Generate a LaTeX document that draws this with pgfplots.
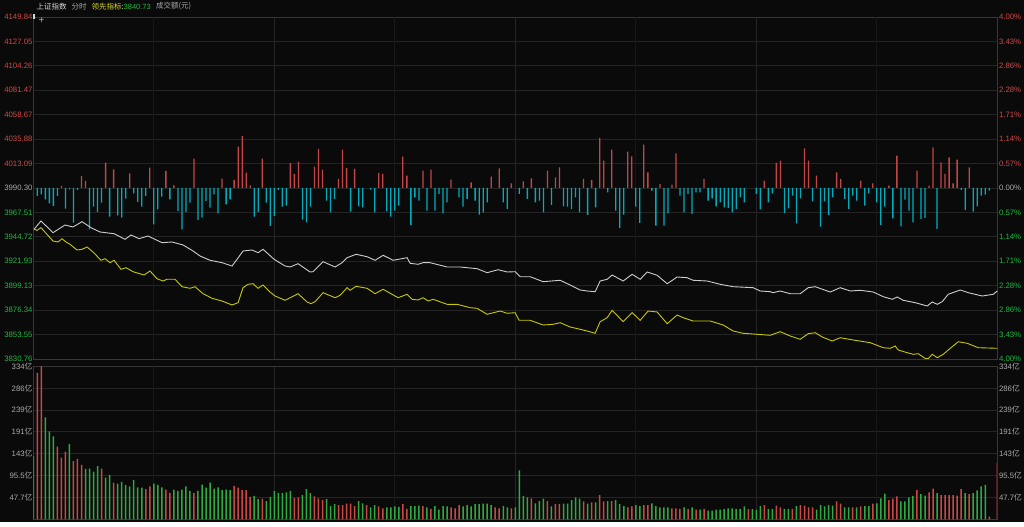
\documentclass[border=0pt]{standalone}
\usepackage{fontspec}
\setmainfont{Liberation Sans}
\newfontfamily\cjk{Noto Sans CJK SC}
\usepackage{pgfplots}
\pgfplotsset{compat=1.18}
\definecolor{bg}{RGB}{10,10,10}
\definecolor{gridc}{RGB}{36,36,36}
\definecolor{gridh}{RGB}{48,48,48}
\definecolor{gridf}{RGB}{24,24,24}
\definecolor{border}{RGB}{55,55,55}
\definecolor{upred}{RGB}{210,72,72}
\definecolor{dngreen}{RGB}{30,185,65}
\definecolor{labgray}{RGB}{170,170,170}
\definecolor{ttl}{RGB}{215,215,215}
\definecolor{ttlyel}{RGB}{215,215,40}
\definecolor{barred}{RGB}{195,70,70}
\definecolor{barcyan}{RGB}{0,172,188}
\definecolor{volred}{RGB}{200,72,72}
\definecolor{volgreen}{RGB}{45,170,65}
\definecolor{wline}{RGB}{205,205,205}
\definecolor{yline}{RGB}{200,200,0}
\newcommand{\R}[1]{\textcolor{upred}{#1}}
\newcommand{\G}[1]{\textcolor{dngreen}{#1}}
\newcommand{\N}[1]{\textcolor{labgray}{#1}}
\newcommand{\Y}[1]{\textcolor{labgray}{#1{\cjk 亿}}}
\begin{document}
\begin{tikzpicture}[x=1pt,y=1pt]
\fill[bg] (0,0) rectangle (1024,522);
\pgfplotsset{
  panel/.style={scale only axis, width=964pt, anchor=south west,
    ticklabel style={font=\fontsize{7.8}{9}\selectfont},
    major tick length=0pt, axis line style={draw=border, line width=0.9pt}},
  vgrid/.style={xtick={60,120,180}, xticklabels={},
    extra x ticks={30,90,150,210}, extra x tick labels={},
    extra x tick style={grid=major, major grid style={draw=gridf, line width=1pt}},
    grid=major, major grid style={draw=gridc, line width=0.9pt}},
}
% ---------- top panel: grid and left labels ----------
\begin{axis}[panel, vgrid, at={(33.3pt,163pt)}, height=342pt,
  xmin=0, xmax=240, ymin=3830.76, ymax=4149.84,
  ytick={3830.76,3853.55,3876.34,3899.13,3921.93,3944.72,3967.51,3990.30,4013.09,4035.88,4058.67,4081.47,4104.26,4127.05,4149.84},
  yticklabels={\G{3830.76},\G{3853.55},\G{3876.34},\G{3899.13},\G{3921.93},\G{3944.72},\G{3967.51},\N{3990.30},\R{4013.09},\R{4035.88},\R{4058.67},\R{4081.47},\R{4104.26},\R{4127.05},\R{4149.84}},
  yticklabel style={inner sep=0.6pt}]
\end{axis}
% ---------- top panel: right percentage labels ----------
\begin{axis}[panel, at={(33.3pt,163pt)}, height=342pt,
  xmin=0, xmax=240, ymin=-4, ymax=4, axis x line=none, axis y line*=right,
  ytick={-4,-3.428571,-2.857143,-2.285714,-1.714286,-1.142857,-0.571429,0,0.571429,1.142857,1.714286,2.285714,2.857143,3.428571,4},
  yticklabels={\G{4.00\%},\G{3.43\%},\G{2.86\%},\G{2.28\%},\G{1.71\%},\G{1.14\%},\G{0.57\%},\N{0.00\%},\R{0.57\%},\R{1.14\%},\R{1.71\%},\R{2.28\%},\R{2.86\%},\R{3.43\%},\R{4.00\%}},
  yticklabel style={inner sep=1.5pt}]
\end{axis}
% ---------- top panel: buy/sell bars ----------
\begin{axis}[panel, at={(33.3pt,163pt)}, height=342pt, hide axis,
  xmin=0, xmax=240, ymin=-171, ymax=171]
\addplot[ybar, bar width=1.3pt, bar shift=0pt, fill=barred, draw=none] coordinates {
(7,2)(12,12)(13,7)(18,25.3)(20,18.7)(24,14.7)(29,20.3)(33,17)(35,2.7)(40,29.3)(47,9.3)(50,8)(51,41.3)(52,52)(53,15.3)(54,2.7)(57,29.3)(64,25)(65,14)(66,26.3)(70,21.3)(71,39)(72,18.3)(76,9)(77,38.3)(78,20)(80,19)(86,15)(87,14)(92,31.3)(93,12.3)(97,17.3)(99,18.3)(104,8.3)(109,5.7)(114,11.3)(116,19.7)(119,4.7)(122,6.7)(124,9.7)(128,17.3)(130,10.7)(131,20.7)(137,9)(139,8)(141,50)(142,27.3)(144,38.3)(148,36.3)(149,31.7)(152,43.3)(153,15.7)(156,4)(159,3.3)(160,34.7)(167,9)(182,7.3)(185,25)(186,27.3)(192,39.7)(193,27.3)(195,12.3)(200,15.7)(201,9)(206,7.3)(209,4.7)(213,2.3)(215,32.3)(220,17.3)(223,2.3)(224,40.7)(226,25.7)(227,14)(228,30.7)(229,4.7)(230,28.3)(233,20.7)
};
\addplot[ybar, bar width=1.3pt, bar shift=0pt, fill=barcyan, draw=none] coordinates {
(1,-8)(2,-6.3)(3,-11.3)(4,-15.3)(5,-18)(6,-8)(8,-20.7)(9,-1.3)(10,-34.7)(11,-2)(14,-41.3)(15,-18.7)(16,-24)(17,-14.7)(19,-28.7)(21,-27.3)(22,-29.7)(23,-10.7)(25,-5.3)(26,-14)(27,-18.7)(28,-8)(30,-36.3)(31,-21.3)(32,-8.7)(34,-11.3)(36,-23)(37,-41.3)(38,-24)(39,-14.7)(41,-32)(42,-29.7)(43,-13)(44,-19.7)(45,-6.3)(46,-25.3)(48,-16.3)(49,-11.3)(55,-28.7)(56,-24)(58,-14.7)(59,-38)(60,-28)(61,-2)(62,-18.7)(63,-17.7)(67,-31.7)(68,-34.3)(69,-18.7)(73,-12.7)(74,-24.3)(75,-11)(79,-23.7)(81,-18.3)(82,-19.3)(84,-1.7)(85,-24.3)(88,-23.3)(89,-28.7)(90,-22.7)(91,-17.7)(94,-37)(95,-9.3)(96,-12.7)(98,-22.7)(100,-22.7)(101,-6)(102,-25.3)(103,-14.3)(106,-9.3)(107,-18.7)(108,-11)(110,-12.7)(111,-26.7)(112,-24.3)(113,-14.3)(117,-14.3)(118,-21)(121,-6)(123,-11)(125,-14.3)(126,-12.7)(127,-24.3)(129,-17)(132,-18.3)(133,-18.7)(134,-21)(135,-9.3)(136,-24.3)(138,-27)(140,-19.3)(143,-4.3)(145,-22.7)(146,-40)(147,-26.7)(150,-18.7)(151,-35)(154,-2.7)(155,-37.7)(157,-37.7)(158,-25.3)(161,-7.7)(162,-24.3)(163,-6)(164,-26)(165,-4.3)(166,-4.3)(168,-12.7)(169,-10.3)(170,-18.3)(171,-14.3)(172,-19.3)(173,-20)(174,-24.3)(175,-21)(176,-9.3)(177,-14.3)(180,-6)(181,-21.3)(183,-14.3)(184,-5.3)(187,-25)(188,-20.3)(189,-7.7)(190,-35.3)(191,-10.3)(194,-13.3)(196,-38.7)(197,-13.3)(198,-27)(199,-9.3)(202,-11)(203,-21)(204,-7.7)(205,-12.7)(207,-17.7)(208,-5.3)(210,-14.3)(211,-37)(212,-18.7)(214,-30.3)(216,-38.3)(217,-11.7)(218,-22.7)(219,-34.3)(221,-31)(222,-30)(225,-41)(231,-2)(232,-22)(234,-23.7)(235,-18.3)(236,-7.7)(237,-6.7)(238,-2.7)
};
\end{axis}
% ---------- top panel: index lines ----------
\begin{axis}[panel, at={(33.3pt,163pt)}, height=342pt, hide axis,
  xmin=-0.175, xmax=240.825, ymin=3830.76, ymax=4149.84]
\addplot[wline, line width=0.9pt, no marks] coordinates {
(0,3951.77)(1.75,3959.51)(4.75,3948.60)(7.75,3955.78)(9.75,3953.91)(12,3958.86)(14.25,3953.26)(16.5,3949.25)(20,3947.66)(22.75,3942.44)(24.25,3946.45)(26.25,3943.00)(28.5,3945.52)(32,3939.27)(34.5,3939.92)(37.25,3937.12)(39.75,3931.52)(41.5,3926.86)(44,3922.85)(47,3920.61)(49.5,3917.53)(50.75,3923.78)(52.25,3931.52)(54.5,3932.46)(56,3929.94)(57.25,3933.11)(60,3923.78)(62.75,3917.53)(64,3916.59)(66,3919.67)(69,3911.93)(69.75,3912.21)(72.25,3921.54)(75.25,3916.59)(77,3920.61)(78.25,3925.27)(80.5,3928.44)(83.25,3926.20)(85.25,3922.85)(87.25,3927.51)(89.75,3922.85)(93.25,3925.27)(94,3920.05)(96,3919.11)(97.25,3920.61)(99,3920.61)(103.25,3916.59)(106.5,3916.59)(110.75,3915.01)(113.25,3911.28)(116,3914.08)(118.25,3911.93)(120.25,3912.21)(121.5,3907.54)(124,3907.54)(127.25,3902.88)(131.5,3904.19)(134,3899.80)(136.5,3895.14)(138.25,3894.20)(140.25,3893.55)(141.5,3903.53)(143.25,3905.12)(144.5,3909.13)(147.25,3903.53)(149.5,3909.78)(151.5,3905.12)(153.25,3911.93)(155.75,3908.85)(158.25,3901.01)(160.75,3907.26)(163.25,3906.61)(164.75,3904.19)(168.25,3903.53)(171.5,3900.45)(174.75,3898.21)(179.75,3897.28)(181.5,3894.20)(184,3893.55)(184.75,3892.62)(186.5,3894.20)(189,3891.68)(191.5,3891.68)(193.5,3897.28)(195.25,3898.21)(199,3893.27)(201.5,3897.28)(204,3894.20)(206.5,3894.86)(209.75,3893.27)(212.25,3888.89)(214.5,3886.46)(215.75,3888.61)(217.25,3885.53)(220.25,3883.29)(223.25,3880.21)(224.5,3883.94)(225.75,3881.79)(227,3884.22)(228.5,3891.12)(231.5,3895.14)(233.5,3892.62)(237,3889.54)(239.75,3891.12)(240.75,3894.20)
};
\addplot[yline, line width=0.9pt, no marks] coordinates {
(0,3951.77)(0.75,3950.83)(1.75,3953.26)(4.75,3940.85)(6,3939.92)(7,3943.00)(8,3939.92)(9,3937.77)(10.75,3932.46)(12,3933.11)(13.25,3935.25)(14.75,3930.59)(16.75,3922.85)(17.75,3924.34)(19,3920.61)(20,3922.85)(21.75,3914.45)(23,3915.94)(24.75,3912.21)(27.5,3909.13)(29,3912.86)(30.75,3905.68)(32.25,3903.53)(33.25,3905.12)(35.25,3905.12)(37,3898.21)(39,3896.72)(40.25,3898.21)(42.25,3891.68)(44.5,3887.39)(47,3884.87)(49.5,3881.14)(51,3883.29)(52.25,3897.28)(53.5,3900.45)(54.75,3901.01)(56,3896.72)(57.25,3899.80)(59,3893.27)(60.25,3889.54)(62.75,3885.53)(66,3891.68)(68.25,3883.94)(69.25,3882.35)(70.25,3884.22)(72.25,3892.62)(75.25,3887.95)(76.5,3890.19)(78.25,3897.28)(79,3894.86)(80.5,3898.59)(83.25,3896.72)(85.25,3891.68)(87.25,3895.79)(91,3887.95)(93.25,3891.12)(94.5,3886.46)(96,3885.81)(97.25,3887.95)(98.5,3884.87)(99.75,3886.46)(103.25,3881.79)(105.75,3881.79)(109,3878.62)(110.75,3878.06)(113.25,3872.46)(116.5,3875.54)(118.25,3873.40)(120.25,3873.96)(121.25,3866.87)(124,3866.87)(127.25,3862.48)(129.75,3863.13)(131.5,3864.63)(134,3860.62)(136.5,3858.47)(138.25,3856.88)(140.25,3854.74)(141.5,3865.56)(143.25,3869.29)(144.5,3876.20)(147.25,3865.56)(149.5,3873.96)(151.5,3866.87)(153.5,3875.54)(155.75,3874.61)(158.25,3863.69)(160.75,3871.81)(162.25,3869.29)(164.75,3866.21)(169,3866.21)(172.25,3862.48)(174.75,3856.88)(177.25,3854.74)(180.75,3853.80)(184,3852.87)(186.5,3856.23)(189,3852.22)(191.5,3849.14)(193.5,3854.36)(195.25,3855.30)(197,3851.29)(199.5,3847.55)(201.5,3850.63)(204.75,3848.49)(209,3845.97)(212.25,3841.30)(214,3840.74)(215.25,3842.89)(216,3839.16)(218.25,3836.64)(219.75,3835.14)(221,3835.71)(222.75,3831.2)(223.5,3831.2)(224.5,3835.14)(225.75,3831.97)(227.25,3835.14)(229,3840.74)(231,3846.90)(233.25,3845.41)(236,3841.30)(240.75,3840.74)
};
\end{axis}
% ---------- volume panel ----------
\begin{axis}[panel, vgrid, at={(33.3pt,2.7pt)}, height=152.8pt,
  xmin=0, xmax=240, ymin=0, ymax=334,
  ytick={47.7,95.5,143,191,239,286,334},
  yticklabels={\Y{47.7},\Y{95.5},\Y{143},\Y{191},\Y{239},\Y{286},\Y{334}},
  yticklabel style={inner sep=0.6pt}]
\addplot[ybar, bar width=1.5pt, bar shift=0pt, fill=volred, draw=none] coordinates {
(1,320)(2,334)(6,159)(7,135)(8,148)(10,127)(11,132)(12,119)(17,111)(20,80)(28,66)(29,72)(33,65)(34,58)(40,58)(50,73)(51,69)(52,64)(53,64)(54,49)(57,45)(65,47)(66,48)(70,50)(71,46)(72,42)(76,31)(77,31)(78,34)(79,34)(80,29)(83,31)(86,28)(87,24)(92,33)(93,23)(97,29)(99,23)(104,26)(105,24)(106,31)(115,26)(116,24)(119,24)(124,46)(128,40)(130,33)(131,33)(137,39)(139,37)(141,53)(142,39)(144,40)(148,26)(149,28)(152,31)(153,31)(159,24)(160,24)(161,23)(163,22)(165,21)(167,23)(178,22)(182,31)(185,30)(186,26)(189,23)(191,31)(192,30)(193,26)(194,26)(200,39)(201,34)(204,26)(206,28)(209,34)(213,42)(214,45)(215,50)(220,64)(223,59)(224,67)(226,53)(227,53)(228,53)(229,53)(230,52)(231,66)(233,55)(238,6)(240,124)
};
\addplot[ybar, bar width=1.5pt, bar shift=0pt, fill=volgreen, draw=none] coordinates {
(0,138)(3,223)(4,192)(5,181)(9,165)(13,110)(14,111)(15,104)(16,116)(18,91)(19,97)(21,78)(22,82)(23,75)(24,72)(25,86)(26,70)(27,69)(30,78)(31,75)(32,70)(35,65)(36,62)(37,65)(38,72)(39,62)(41,62)(42,76)(43,69)(44,80)(45,67)(46,70)(47,64)(48,65)(49,64)(55,51)(56,44)(58,40)(59,49)(60,62)(61,58)(62,58)(63,59)(64,62)(67,53)(68,66)(69,57)(73,44)(74,29)(75,33)(81,40)(82,35)(84,26)(85,31)(88,26)(89,26)(90,28)(91,27)(94,29)(95,29)(96,30)(98,26)(100,29)(101,21)(102,29)(103,28)(107,28)(108,31)(109,28)(110,33)(111,33)(112,34)(113,34)(114,31)(117,29)(118,26)(120,26)(121,107)(122,51)(123,48)(125,35)(126,40)(127,45)(129,28)(132,34)(133,34)(134,42)(135,48)(136,45)(138,34)(140,37)(143,40)(145,42)(146,33)(147,29)(150,31)(151,29)(154,35)(155,29)(156,26)(157,26)(158,26)(162,26)(164,26)(166,21)(168,19)(169,19)(170,21)(171,21)(172,22)(173,24)(174,24)(175,23)(176,23)(177,28)(179,22)(180,21)(181,29)(183,23)(184,23)(187,23)(188,23)(190,29)(195,21)(196,31)(197,28)(198,31)(199,30)(202,26)(203,26)(205,26)(207,29)(208,29)(210,35)(211,46)(212,56)(216,39)(217,39)(218,48)(219,51)(221,55)(222,52)(225,57)(232,57)(234,57)(235,63)(236,72)(237,75)
};
\end{axis}
\begin{axis}[panel, at={(33.3pt,2.7pt)}, height=152.8pt,
  xmin=0, xmax=240, ymin=0, ymax=334, axis x line=none, axis y line*=right,
  ytick={47.7,95.5,143,191,239,286,334},
  yticklabels={\Y{47.7},\Y{95.5},\Y{143},\Y{191},\Y{239},\Y{286},\Y{334}},
  yticklabel style={inner sep=1.5pt}]
\end{axis}
% ---------- header ----------
\begin{scope}[every node/.style={anchor=west, inner sep=0pt, font=\fontsize{7.5}{9}\selectfont}]
\node at (36.5,515.5) {\cjk\color{ttl}上证指数};
\node at (71.5,515.5) {\cjk\color{labgray}分时};
\node at (91.5,515.5) {\cjk\color{ttlyel}领先指标:};
\node at (123.5,515.5) {\color{dngreen}3840.73};
\node at (156,515.5) {\cjk\color{labgray}成交额(元)};
\node at (38.3,501.5) {\color{labgray}\fontsize{10}{10}\selectfont +};
\end{scope}
\fill[ttl] (33.3,502.7) rectangle (35.3,508);
\end{tikzpicture}
\end{document}
